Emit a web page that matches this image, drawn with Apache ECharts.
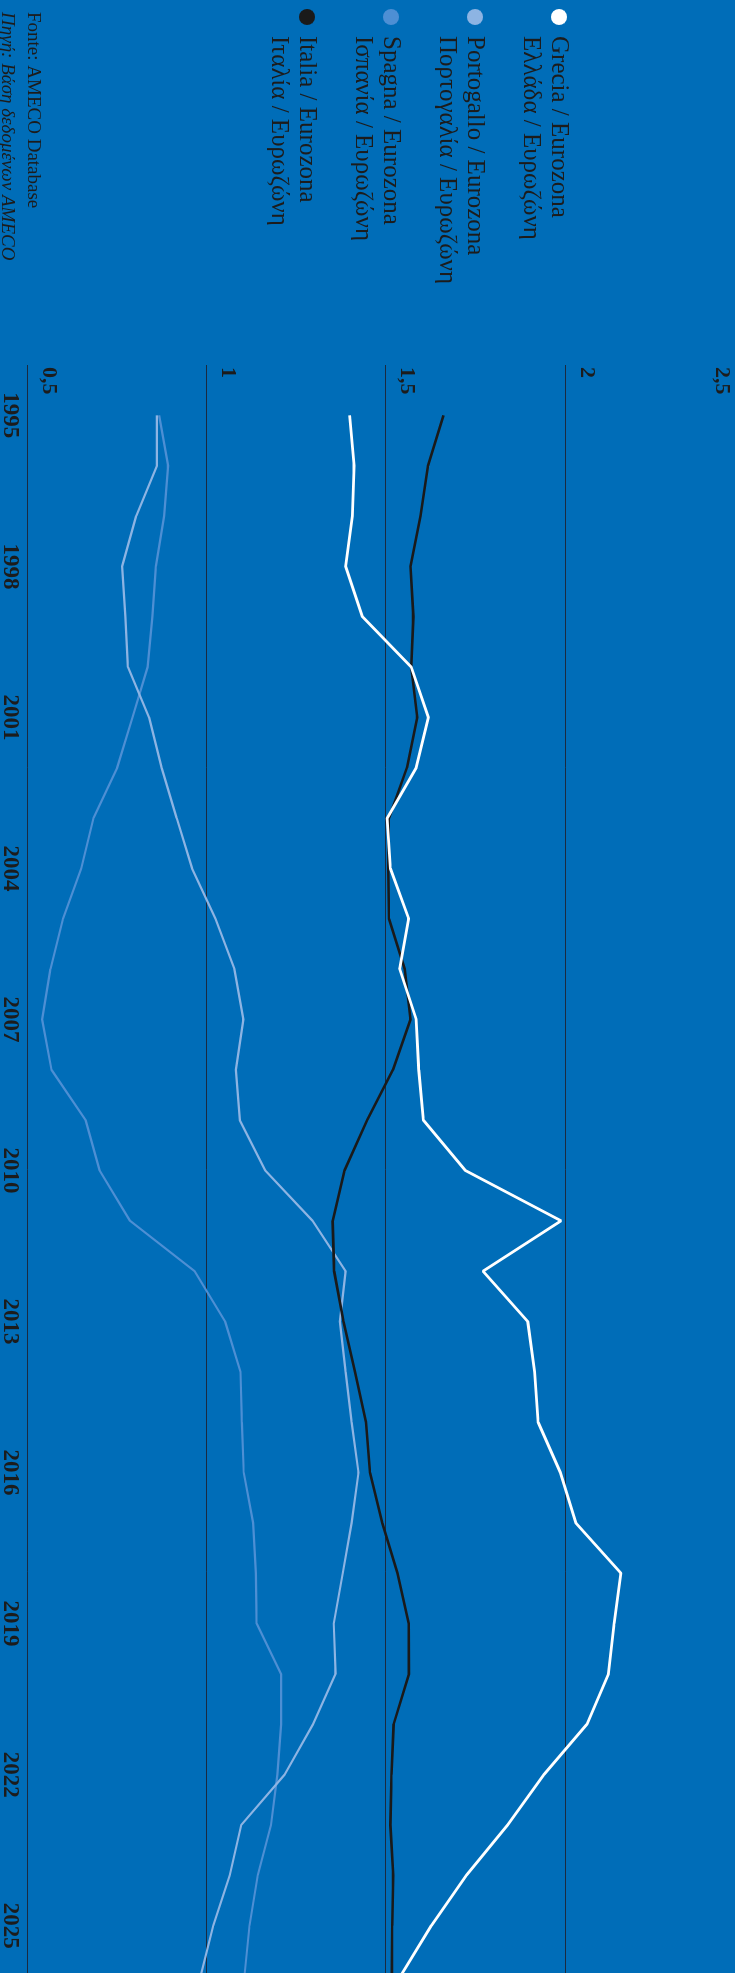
<!DOCTYPE html>
<html>
<head>
<meta charset="utf-8">
<script src="https://cdn.jsdelivr.net/npm/echarts@6/dist/echarts.min.js"></script>
<style>
  html, body { margin: 0; padding: 0; background: #006db8; width: 735px; height: 1973px; overflow: hidden; }
  /* the chart is laid out landscape and turned a quarter clockwise */
  #chart { position: absolute; left: 0; top: 0; width: 1973px; height: 735px;
           transform-origin: 0 0; transform: translateX(735px) rotate(90deg); }
</style>
</head>
<body>
<div id="chart"></div>
<script>
// Years covered by the series
const years = [1995,1996,1997,1998,1999,2000,2001,2002,2003,2004,2005,2006,2007,2008,2009,2010,
               2011,2012,2013,2014,2015,2016,2017,2018,2019,2020,2021,2022,2023,2024,2025,2026];

// Ratio of each country to the euro area
const grecia =     [1.398,1.411,1.406,1.387,1.434,1.570,1.618,1.584,1.503,1.512,1.563,1.538,1.584,1.591,1.604,1.721,
                    1.988,1.770,1.895,1.914,1.924,1.986,2.029,2.155,2.136,2.120,2.060,1.940,1.839,1.724,1.626,1.540];
const portogallo = [0.861,0.861,0.803,0.764,0.773,0.780,0.839,0.874,0.916,0.959,1.024,1.077,1.102,1.081,1.092,1.163,
                    1.295,1.387,1.371,1.387,1.404,1.423,1.404,1.379,1.354,1.359,1.296,1.217,1.096,1.064,1.018,0.983];
const spagna =     [0.867,0.892,0.881,0.858,0.848,0.835,0.793,0.750,0.684,0.650,0.599,0.564,0.541,0.567,0.662,0.701,
                    0.786,0.966,1.051,1.094,1.098,1.103,1.129,1.137,1.139,1.207,1.207,1.197,1.179,1.142,1.119,1.105];
const italia =     [1.660,1.617,1.596,1.568,1.576,1.570,1.587,1.558,1.508,1.506,1.508,1.552,1.568,1.519,1.447,1.384,
                    1.351,1.355,1.381,1.413,1.444,1.455,1.489,1.532,1.563,1.564,1.521,1.515,1.512,1.520,1.517,1.516];

// Tick labels
const yearTicks = [1995,1998,2001,2004,2007,2010,2013,2016,2019,2022,2025];
const valueTicks = [0.5, 1, 1.5, 2, 2.5];
const valueTickText = ['0,5', '1', '1,5', '2', '2,5'];

// Legend names (Italian / Greek)
const seriesNames = ['Grecia / Eurozona', 'Portogallo / Eurozona', 'Spagna / Eurozona', 'Italia / Eurozona'];
const greekNames = ['Ελλάδα / Ευρωζώνη', 'Πορτογαλία / Ευρωζώνη', 'Ισπανία / Ευρωζώνη', 'Ιταλία / Ευρωζώνη'];

const sourceLines = ['Fonte: AMECO Database', 'Πηγή: Βάση δεδομένων AMECO'];

const serif = '"Liberation Serif", "DejaVu Serif", serif';
const ink = '#1c1c1c';

const pairs = vals => years.map((y, i) => [y, vals[i]]);
const tickText = v => {
  const i = valueTicks.findIndex(t => Math.abs(t - v) < 1e-9);
  return i >= 0 && i < valueTicks.length - 1 ? valueTickText[i] : '';
};

const chart = echarts.init(document.getElementById('chart'), null, { renderer: 'canvas' });
chart.setOption({
  backgroundColor: '#006db8',
  animation: false,
  title: {
    left: 12, top: 690, padding: 0,
    text: '{a|' + sourceLines[0] + '}\n{b|' + sourceLines[1] + '}',
    textStyle: {
      fontWeight: 'normal',
      rich: {
        a: { fontFamily: serif, fontSize: 19, lineHeight: 25, color: ink, fontWeight: 'normal' },
        b: { fontFamily: serif, fontSize: 19, lineHeight: 25, color: ink, fontWeight: 'normal', fontStyle: 'italic' }
      }
    }
  },
  legend: {
    orient: 'vertical', left: 9, top: 134, padding: 0, itemGap: 0,
    icon: 'circle', itemWidth: 28, itemHeight: 16,
    itemStyle: { borderWidth: 0 },
    data: seriesNames,
    formatter: name => '\n' + name + '\n' + greekNames[seriesNames.indexOf(name)],
    textStyle: { fontFamily: serif, fontSize: 25, lineHeight: 28, color: ink }
  },
  grid: { left: 365, bottom: 27.5, width: 1611, height: 717.2, outerBoundsMode: 'none', containLabel: false },
  xAxis: {
    type: 'value', min: 1994, max: 2026, interval: 1,
    axisLine: { show: false }, axisTick: { show: false }, splitLine: { show: false },
    axisLabel: {
      margin: 7,
      formatter: v => yearTicks.includes(v) ? String(v) : '',
      fontFamily: serif, fontWeight: 'bold', fontSize: 23, lineHeight: 22, color: ink
    }
  },
  yAxis: {
    type: 'value', min: 0.5, max: 2.5, interval: 0.5,
    axisLine: { show: false }, axisTick: { show: false },
    splitLine: { lineStyle: { color: '#1a2a40', width: 1 } },
    axisLabel: {
      inside: true, margin: 2, align: 'left', verticalAlign: 'bottom', padding: [0, 0, 10, 0],
      formatter: tickText,
      fontFamily: serif, fontWeight: 'bold', fontSize: 22, lineHeight: 22, color: ink
    },
    name: valueTickText[valueTickText.length - 1],
    nameLocation: 'end', nameGap: -23,
    nameTextStyle: {
      align: 'left', verticalAlign: 'middle', padding: [0, 0, 0, 2],
      fontFamily: serif, fontWeight: 'bold', fontSize: 22, lineHeight: 22, color: ink
    }
  },
  series: [
    { name: seriesNames[2], type: 'line', data: pairs(spagna), showSymbol: false, symbol: 'none',
      color: '#4d8fd4', lineStyle: { width: 2.2, color: '#4d8fd4' } },
    { name: seriesNames[1], type: 'line', data: pairs(portogallo), showSymbol: false, symbol: 'none',
      color: '#8db4e3', lineStyle: { width: 2.2, color: '#8db4e3' } },
    { name: seriesNames[3], type: 'line', data: pairs(italia), showSymbol: false, symbol: 'none',
      color: '#1a1a1a', lineStyle: { width: 2.6, color: '#1a1a1a' } },
    { name: seriesNames[0], type: 'line', data: pairs(grecia), showSymbol: false, symbol: 'none',
      color: '#ffffff', lineStyle: { width: 2.8, color: '#ffffff' } }
  ]
});
</script>
</body>
</html>
